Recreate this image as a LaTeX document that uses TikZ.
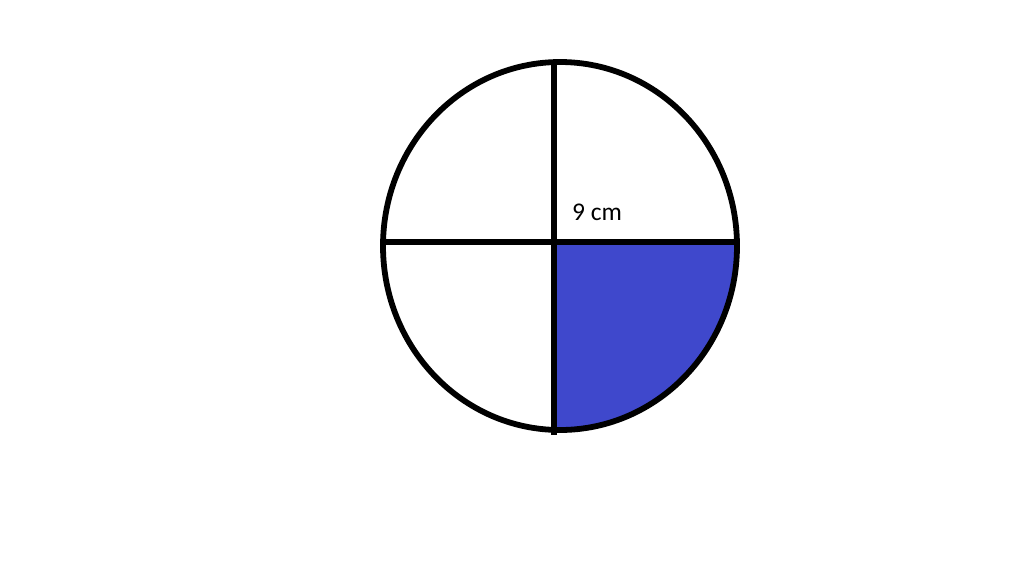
\documentclass[tikz,border=0pt]{standalone}
\usepackage{fontspec}
\setmainfont{Carlito}
\usetikzlibrary{positioning}
\definecolor{paintblue}{RGB}{63,72,204}

\begin{document}
\begin{tikzpicture}[
    x=0.02cm, y=-0.02cm,
    rim/.style={draw, line width=3.3pt},
    cut/.style={draw, line width=3pt},
    label/.style={font=\fontsize{14.5}{17}\selectfont, inner sep=0pt}
]
\useasboundingbox (0,0) rectangle (1024,575);

% Define key points
\coordinate (O) at (560,246);
\coordinate (X) at (554,242);
\coordinate (T) at (554,61);
\coordinate (B) at (554,435);
\coordinate (L) at (382,242);
\coordinate (R) at (738,242);

% Shaded quarter
\begin{scope}
  \clip (O) ellipse [x radius=177, y radius=184];
  \fill[paintblue] (X) rectangle (745,440);
\end{scope}

% Circle and diameters
\path[rim] (O) ellipse [x radius=177, y radius=184];
\path[cut] (T) -- (B);
\path[cut] (L) -- (R);

% Radius label
\node[label] (len) at (597,212) {9 cm};

\end{tikzpicture}
\end{document}
